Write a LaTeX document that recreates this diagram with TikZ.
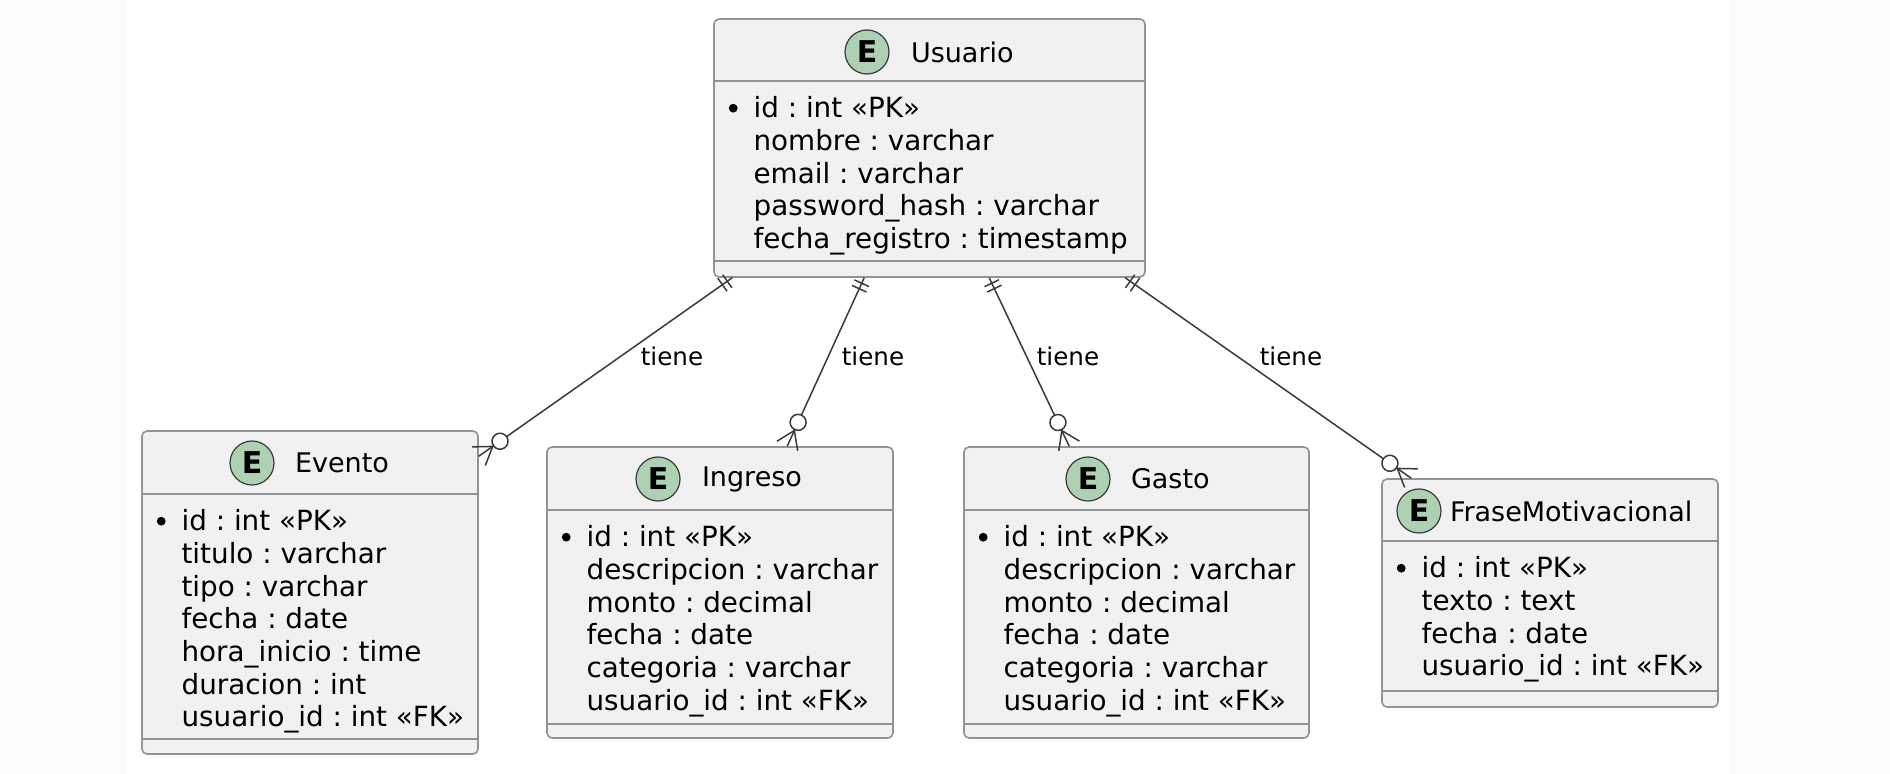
\documentclass[tikz,border=0pt]{standalone}
\usepackage{fontspec}
\setmainfont{DejaVu Sans}
\usepackage{tikz}
\usetikzlibrary{positioning,decorations.markings}
\frenchspacing

\definecolor{boxfill}{HTML}{F1F1F1}
\definecolor{boxdraw}{HTML}{939393}
\definecolor{efill}{HTML}{ADD1B2}
\definecolor{linkcol}{HTML}{3A3A3A}

\tikzstyle{entity} = [rectangle, rounded corners=2.5pt, draw=boxdraw, line width=0.8pt, fill=boxfill, inner sep=0pt]
\tikzstyle{divider} = [draw=boxdraw, line width=0.8pt]
\tikzstyle{ebadge} = [circle, minimum size=22pt, inner sep=0pt, draw=linkcol, line width=0.6pt, fill=efill, font=\fontsize{15}{15}\selectfont\bfseries]
\tikzstyle{ename} = [inner sep=0pt, font=\fontsize{13.5}{16}\selectfont]
\tikzstyle{fields} = [anchor=north west, inner sep=0pt, align=left, font=\fontsize{13.9}{16.35}\selectfont]
\tikzstyle{rellabel} = [inner sep=0pt, font=\fontsize{12.3}{14}\selectfont]
\tikzstyle{crow} = [draw=linkcol, line width=0.75pt, postaction={decorate}, decoration={markings,
    mark=at position 3pt with {\draw[linkcol, line width=0.75pt] (0,-4pt) -- (0,4pt);},
    mark=at position 6pt with {\draw[linkcol, line width=0.75pt] (0,-4pt) -- (0,4pt);},
    mark=at position 1 with {\draw[linkcol, line width=0.75pt, fill=white] (-13pt,0) circle (4pt);
        \draw[linkcol, line width=0.75pt] (0,5.7pt) -- (-8.5pt,0) -- (0,-5.7pt);}}]

\begin{document}
\begin{tikzpicture}[x=0.5pt, y=-0.5pt]
    \useasboundingbox (0,0) rectangle (1890,774);
    \fill[black!1.5] (0,0) rectangle (1890,774);
    \fill[white] (126,0) rectangle (1729,774);

    % Usuario
    \node (usuario) [entity, minimum width=215.5pt, minimum height=129pt] at (929.5,148) {};
    \draw[divider] ([yshift=-31.5pt]usuario.north west) -- ([yshift=-31.5pt]usuario.north east);
    \draw[divider] ([yshift=8.5pt]usuario.south west) -- ([yshift=8.5pt]usuario.south east);
    \node (usuarioE) [ebadge] at (867,52) {E};
    \node (usuarioName) [ename, right=10.5pt of usuarioE] {Usuario};
    \node (usuarioFields) [fields] at ([xshift=20pt,yshift=-39pt]usuario.north west) {id : int «PK»\\nombre : varchar\\email : varchar\\password\_hash : varchar\\fecha\_registro : timestamp};
    \fill ([xshift=-10pt,yshift=-6pt]usuarioFields.north west) circle (2.2pt);

    % Evento
    \node (evento) [entity, minimum width=168pt, minimum height=161.5pt] at (310,592.5) {};
    \draw[divider] ([yshift=-32pt]evento.north west) -- ([yshift=-32pt]evento.north east);
    \draw[divider] ([yshift=8pt]evento.south west) -- ([yshift=8pt]evento.south east);
    \node (eventoE) [ebadge] at (252,463) {E};
    \node (eventoName) [ename, right=10pt of eventoE] {Evento};
    \node (eventoFields) [fields] at ([xshift=20pt,yshift=-39.5pt]evento.north west) {id : int «PK»\\titulo : varchar\\tipo : varchar\\fecha : date\\hora\_inicio : time\\duracion : int\\usuario\_id : int «FK»};
    \fill ([xshift=-10pt,yshift=-6pt]eventoFields.north west) circle (2.2pt);

    % Ingreso
    \node (ingreso) [entity, minimum width=173pt, minimum height=145.5pt] at (720,592.5) {};
    \draw[divider] ([yshift=-32pt]ingreso.north west) -- ([yshift=-32pt]ingreso.north east);
    \draw[divider] ([yshift=7.5pt]ingreso.south west) -- ([yshift=7.5pt]ingreso.south east);
    \node (ingresoE) [ebadge] at (658,479) {E};
    \node (ingresoName) [ename, right=10.5pt of ingresoE] {Ingreso};
    \node (ingresoFields) [fields] at ([xshift=20pt,yshift=-39.5pt]ingreso.north west) {id : int «PK»\\descripcion : varchar\\monto : decimal\\fecha : date\\categoria : varchar\\usuario\_id : int «FK»};
    \fill ([xshift=-10pt,yshift=-6pt]ingresoFields.north west) circle (2.2pt);

    % Gasto
    \node (gasto) [entity, minimum width=172.5pt, minimum height=145.5pt] at (1136.5,592.5) {};
    \draw[divider] ([yshift=-32pt]gasto.north west) -- ([yshift=-32pt]gasto.north east);
    \draw[divider] ([yshift=7.5pt]gasto.south west) -- ([yshift=7.5pt]gasto.south east);
    \node (gastoE) [ebadge] at (1088,479) {E};
    \node (gastoName) [ename, right=10pt of gastoE] {Gasto};
    \node (gastoFields) [fields] at ([xshift=20pt,yshift=-39.5pt]gasto.north west) {id : int «PK»\\descripcion : varchar\\monto : decimal\\fecha : date\\categoria : varchar\\usuario\_id : int «FK»};
    \fill ([xshift=-10pt,yshift=-6pt]gastoFields.north west) circle (2.2pt);

    % FraseMotivacional
    \node (frase) [entity, minimum width=168pt, minimum height=114pt] at (1550,593) {};
    \draw[divider] ([yshift=-31.5pt]frase.north west) -- ([yshift=-31.5pt]frase.north east);
    \draw[divider] ([yshift=8.5pt]frase.south west) -- ([yshift=8.5pt]frase.south east);
    \node (fraseE) [ebadge] at (1419,511) {E};
    \node (fraseName) [ename, right=4pt of fraseE] {FraseMotivacional};
    \node (fraseFields) [fields] at ([xshift=20pt,yshift=-39pt]frase.north west) {id : int «PK»\\texto : text\\fecha : date\\usuario\_id : int «FK»};
    \fill ([xshift=-10pt,yshift=-6pt]fraseFields.north west) circle (2.2pt);

    % relations
    \draw[crow] ([xshift=9.5pt]usuario.south west) -- ([yshift=-13pt]evento.north east);
    \draw[crow] ([xshift=75.5pt]usuario.south west) -- ([xshift=120.5pt]ingreso.north west);
    \draw[crow] ([xshift=138pt]usuario.south west) -- ([xshift=53pt]gasto.north west);
    \draw[crow] ([xshift=206pt]usuario.south west) -- ([xshift=15pt]frase.north west);
    \node (tiene1) [rellabel] at (672,356) {tiene};
    \node (tiene2) [rellabel] at (873,356) {tiene};
    \node (tiene3) [rellabel] at (1068,356) {tiene};
    \node (tiene4) [rellabel] at (1291,356) {tiene};
\end{tikzpicture}
\end{document}
